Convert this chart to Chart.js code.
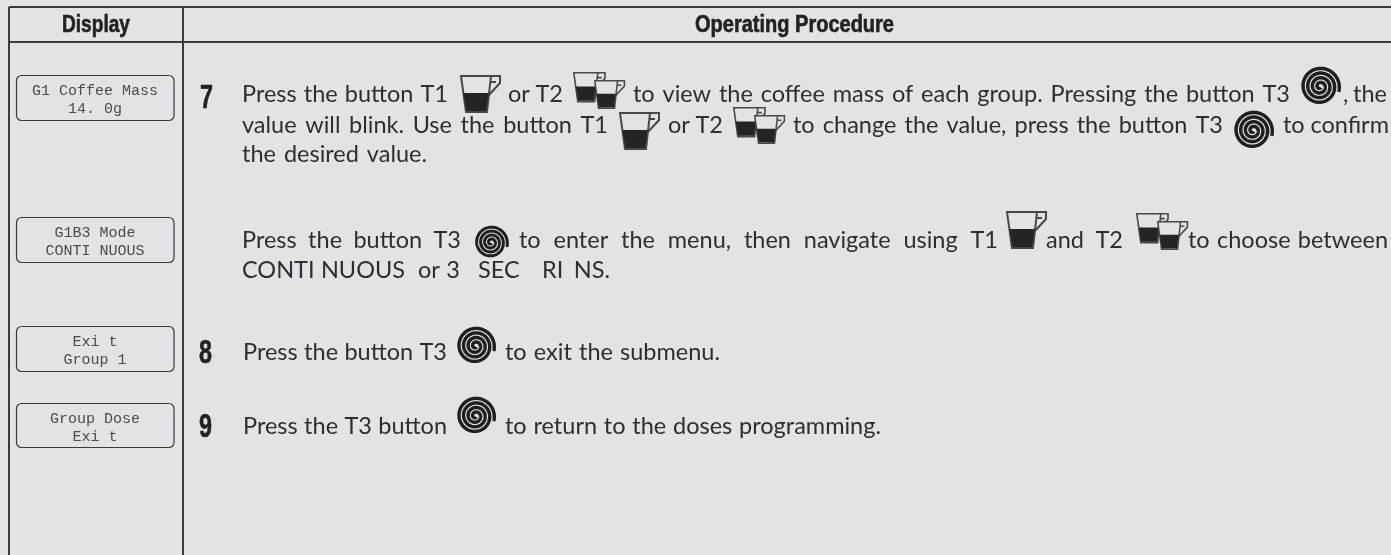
<!DOCTYPE html>
<html>
<head>
<meta charset="utf-8">
<title>Operating Procedure</title>
<script src="https://cdn.jsdelivr.net/npm/chart.js@4/dist/chart.umd.min.js"></script>
<style>
  html, body { margin: 0; padding: 0; background: #e2e3e5; }
  #wrap { position: relative; width: 1391px; height: 555px; }
</style>
</head>
<body>
<div id="wrap"><canvas id="procedure"></canvas></div>
<script>
// Table content
const headers = ["Display", "Operating Procedure"];
const stepNumbers = ["7", "8", "9"];
const displayLines = [
  ["G1 Coffee Mass", "14. 0g"],
  ["G1B3 Mode", "CONTI NUOUS"],
  ["Exi t", "Group 1"],
  ["Group Dose", "Exi t"],
];
const procedureLines = [
  "Press the button T1", "or T2", "to view the coffee mass of each group. Pressing the button T3", ", the",
  "value will blink. Use the button T1", "or T2", "to change the value, press the button T3", "to confirm",
  "the desired value.",
  "Press the button T3", "to enter the menu, then navigate using T1", "and T2", "to choose between",
  "CONTI NUOUS", "or 3", "SEC", "RI NS.",
  "Press the button T3", "to exit the submenu.",
  "Press the T3 button", "to return to the doses programming.",
];

// Table rules, in px along the two scales
const columnRules = [9, 183];
const rowRules = [7, 42];

// Layout of the text and icons (separate from the content above)
const headerLayout = [[62, 130, 32], [695, 894, 32]];
const displayBoxes = [[75, 120], [217, 262], [326, 371], [403, 447]];
const stepLayout = [[200, 108], [199, 363], [199, 437]];
const procedureLayout = [
  [242, 102, 448], [508, 102, 563], [633, 102, 1290], [1343, 102, 1387],
  [242, 133, 608], [668, 133, 723], [793, 133, 1223], [1283, 133, 1389],
  [242, 162, 427],
  [242, 248, 461], [519, 248, 998], [1046, 248, 1123], [1188, 248, 1388],
  [242, 278, 405], [418, 278, 460], [478, 278, 523], [542, 278, 610],
  [243, 360, 447], [505, 360, 720],
  [243, 434, 447], [505, 434, 881],
];
const cupIcons = [[460, 75], [619, 112], [1006, 211]];
const doubleCupIcons = [[573, 72], [733, 107], [1136, 213]];
const spiralIcons = [[1300, 66, 41], [1233, 110, 41], [474, 225, 35], [456, 326, 40], [456, 396, 40]];

const inkColor = "#2e2d2f";
const backColor = "#e2e3e5";

function drawCup(ctx, x, y, s) {
  ctx.save();
  ctx.translate(x, y);
  ctx.scale(s, s);
  ctx.lineJoin = "miter";
  ctx.strokeStyle = "#48484a";
  ctx.lineWidth = 2;
  // handle
  ctx.beginPath();
  ctx.moveTo(29, 1);
  ctx.lineTo(40, 1);
  ctx.lineTo(40, 8);
  ctx.lineTo(28, 21);
  ctx.moveTo(31, 7);
  ctx.lineTo(36, 7);
  ctx.stroke();
  // body
  ctx.fillStyle = backColor;
  ctx.beginPath();
  ctx.moveTo(1, 1);
  ctx.lineTo(31, 1);
  ctx.lineTo(27, 37);
  ctx.lineTo(6, 37);
  ctx.closePath();
  ctx.fill();
  ctx.stroke();
  // coffee level
  ctx.fillStyle = "#242325";
  ctx.beginPath();
  ctx.moveTo(3.4, 18);
  ctx.lineTo(28.6, 18);
  ctx.lineTo(26.4, 36);
  ctx.lineTo(6.4, 36);
  ctx.closePath();
  ctx.fill();
  ctx.restore();
}

function drawDoubleCup(ctx, x, y) {
  drawCup(ctx, x, y, 0.8);
  drawCup(ctx, x + 21, y + 8, 0.76);
}

// spiral button glyph, wound from the centre out to the lower right
function drawSpiral(ctx, x, y, d) {
  const cx = x + d / 2 - 0.5, cy = y + d / 2;
  const turns = 3.9, rMax = d / 2 - 1, total = turns * Math.PI * 2;
  ctx.save();
  ctx.strokeStyle = "#1f1e20";
  ctx.lineWidth = d * 0.085;
  ctx.beginPath();
  for (let a = 0; a <= total; a += 0.06) {
    const r = d * 0.03 + (rMax - d * 0.03) * a / total;
    const px = cx + r * Math.cos(a + 0.3 - total);
    const py = cy + r * Math.sin(a + 0.3 - total);
    if (a === 0) ctx.moveTo(px, py); else ctx.lineTo(px, py);
  }
  ctx.stroke();
  ctx.restore();
}

function drawJustified(ctx, text, x, y, endX) {
  ctx.wordSpacing = "0px";
  const gaps = text.split(" ").length - 1;
  if (gaps > 0) {
    const extra = (endX - x - ctx.measureText(text).width) / gaps;
    ctx.wordSpacing = extra + "px";
  }
  ctx.fillText(text, x, y);
  ctx.wordSpacing = "0px";
}

// condensed bold text: no narrow face is installed, so squeeze it to its width
function drawSqueezed(ctx, text, x, endX, y) {
  const w = ctx.measureText(text).width;
  ctx.save();
  ctx.translate(x, y);
  ctx.scale((endX - x) / w, 1);
  ctx.fillText(text, 0, 0);
  ctx.strokeStyle = ctx.fillStyle;
  ctx.lineWidth = 0.6;
  ctx.strokeText(text, 0, 0);
  ctx.restore();
}

const tablePlugin = {
  id: "tablePlugin",
  afterDraw(chart) {
    const ctx = chart.ctx;
    ctx.save();
    ctx.textBaseline = "alphabetic";

    // header cells
    ctx.fillStyle = "#232224";
    ctx.textAlign = "left";
    ctx.font = "bold 23px 'Liberation Sans'";
    headers.forEach((h, i) => {
      const [x, endX, y] = headerLayout[i];
      drawSqueezed(ctx, h, x, endX, y);
    });

    // display boxes
    displayBoxes.forEach((box, i) => {
      ctx.strokeStyle = "#3a3a3c";
      ctx.lineWidth = 1.2;
      ctx.beginPath();
      ctx.roundRect(16.5, box[0] + 0.5, 157.5, box[1] - box[0], 5);
      ctx.stroke();
      ctx.fillStyle = "#4c4c4e";
      ctx.textAlign = "center";
      ctx.font = "15px 'Liberation Mono'";
      ctx.fillText(displayLines[i][0], 95, box[0] + 20);
      ctx.fillText(displayLines[i][1], 95, box[0] + 38);
    });

    // step numbers
    ctx.fillStyle = "#232224";
    ctx.textAlign = "left";
    ctx.font = "bold 34px 'Liberation Sans'";
    stepNumbers.forEach((n, i) => {
      const [x, y] = stepLayout[i];
      drawSqueezed(ctx, n, x, x + 13, y);
    });

    // procedure text
    ctx.fillStyle = inkColor;
    ctx.font = "23.5px Lato";
    procedureLines.forEach((line, i) => {
      const [x, y, endX] = procedureLayout[i];
      drawJustified(ctx, line, x, y, endX);
    });

    cupIcons.forEach(([x, y]) => drawCup(ctx, x, y, 1));
    doubleCupIcons.forEach(([x, y]) => drawDoubleCup(ctx, x, y));
    spiralIcons.forEach(([x, y, d]) => drawSpiral(ctx, x, y, d));
    ctx.restore();
  },
};

new Chart(document.getElementById("procedure").getContext("2d"), {
  type: "scatter",
  data: { datasets: [{ data: [] }] },
  plugins: [tablePlugin],
  options: {
    responsive: true,
    maintainAspectRatio: false,
    animation: false,
    layout: { padding: { left: columnRules[0], top: rowRules[0] } },
    plugins: { legend: { display: false }, tooltip: { enabled: false } },
    scales: {
      x: {
        type: "linear",
        min: columnRules[0],
        max: 1391,
        border: { display: false },
        ticks: { display: false },
        afterBuildTicks: (axis) => { axis.ticks = columnRules.map((value) => ({ value })); },
        grid: { color: "#3a3a3c", lineWidth: 2, drawTicks: false },
      },
      y: {
        type: "linear",
        reverse: true,
        min: rowRules[0],
        max: 555,
        border: { display: false },
        ticks: { display: false },
        afterBuildTicks: (axis) => { axis.ticks = rowRules.map((value) => ({ value })); },
        grid: { color: "#3a3a3c", lineWidth: 2, drawTicks: false },
      },
    },
  },
});
</script>
</body>
</html>
